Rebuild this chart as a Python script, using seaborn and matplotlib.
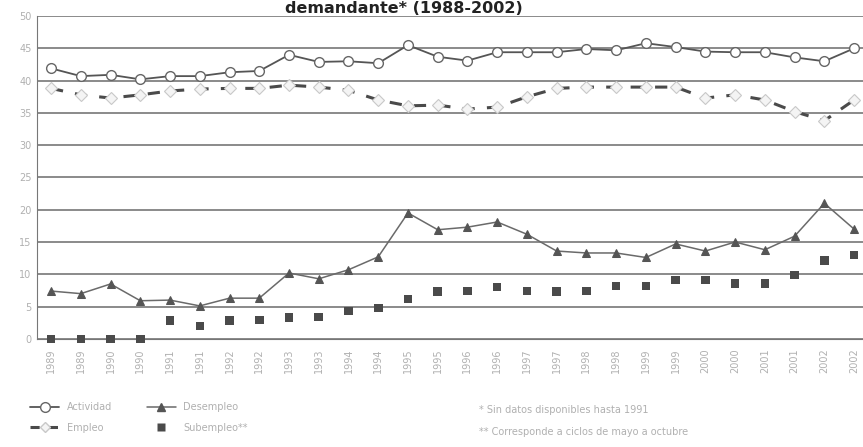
import pandas as pd
import numpy as np
import matplotlib.pyplot as plt
import seaborn as sns
from matplotlib.lines import Line2D

# Datos (tasas en %, dos observaciones por año)
periodos = ["1989", "1989", "1990", "1990", "1991", "1991", "1992", "1992",
            "1993", "1993", "1994", "1994", "1995", "1995", "1996", "1996",
            "1997", "1997", "1998", "1998", "1999", "1999", "2000", "2000",
            "2001", "2001", "2002", "2002"]
actividad = [41.9, 40.7, 40.9, 40.2, 40.7, 40.7, 41.3, 41.5, 44.0, 42.9,
             43.0, 42.7, 45.5, 43.7, 43.1, 44.4, 44.4, 44.4, 44.9, 44.7,
             45.8, 45.2, 44.5, 44.4, 44.4, 43.6, 43.0, 45.0]
empleo = [38.8, 37.8, 37.3, 37.8, 38.4, 38.7, 38.8, 38.8, 39.3, 39.0,
          38.5, 37.0, 36.1, 36.2, 35.6, 35.9, 37.5, 38.8, 39.0, 39.0,
          39.0, 39.0, 37.3, 37.8, 37.0, 35.2, 33.8, 37.0]
desempleo = [7.4, 7.0, 8.5, 5.9, 6.0, 5.1, 6.3, 6.3, 10.2, 9.3,
             10.7, 12.7, 19.5, 16.9, 17.3, 18.1, 16.2, 13.6, 13.3, 13.3,
             12.6, 14.7, 13.6, 15.0, 13.8, 15.9, 21.0, 17.0]
subempleo = [0, 0, 0, 0, 2.8, 2.0, 2.8, 2.9, 3.3, 3.4,
             4.3, 4.8, 6.2, 7.3, 7.4, 8.0, 7.4, 7.3, 7.4, 8.2,
             8.2, 9.1, 9.1, 8.6, 8.6, 9.9, 12.1, 13.0]

df = pd.DataFrame({"pos": np.arange(len(periodos)), "periodo": periodos,
                   "Actividad": actividad, "Empleo": empleo,
                   "Desempleo": desempleo, "Subempleo": subempleo})

sns.set_style("white")
fig = plt.figure(figsize=(8.63, 4.47), dpi=100)
ax = fig.add_axes([0.043, 0.242, 0.957, 0.722])

grey_txt = "#b0b0b0"

# lineas de la grilla
for v in range(0, 55, 5):
    ax.axhline(v, color="#8a8a8a", lw=1.4, zorder=0)

sns.lineplot(data=df, x="pos", y="Actividad", ax=ax, color="#555555", lw=1.3,
             marker="o", markersize=7, markerfacecolor="white",
             markeredgecolor="#666666", markeredgewidth=1.0, zorder=3)
sns.lineplot(data=df, x="pos", y="Empleo", ax=ax, color="#4a4a4a", lw=2.2,
             linestyle=(0, (4, 4)), marker="D", markersize=6,
             markerfacecolor="#f4f4f4", markeredgecolor="#c8c8c8",
             markeredgewidth=0.8, zorder=3)
sns.lineplot(data=df, x="pos", y="Desempleo", ax=ax, color="#6a6a6a", lw=1.1,
             marker="^", markersize=6, markerfacecolor="#555555",
             markeredgecolor="#555555", zorder=3)
sns.scatterplot(data=df, x="pos", y="Subempleo", ax=ax, color="#4a4a4a",
                marker="s", s=38, edgecolor="none", zorder=4, clip_on=False)

ax.set_xlim(-0.47, 27.3)
ax.set_ylim(0, 50)
ax.set_yticks(range(0, 55, 5))
ax.set_xticks(df["pos"])
ax.set_xticklabels(periodos, rotation=90, fontsize=7, color=grey_txt)
ax.tick_params(axis="y", labelsize=7, labelcolor=grey_txt, length=0, pad=4)
ax.tick_params(axis="x", length=3, color="#888888", pad=4)
ax.set_xlabel("")
ax.set_ylabel("")
for s in ["top", "right"]:
    ax.spines[s].set_visible(False)
ax.spines["left"].set_color("#777777")
ax.spines["bottom"].set_color("#777777")

# titulo (en el original aparece cortado arriba)
fig.text(0.468, 0.997, "demandante* (1988-2002)", ha="center", va="top",
         fontsize=11.5, fontweight="bold", color="#222222")

handles = [
    Line2D([], [], color="#555555", lw=1.3, marker="o", markersize=7,
           markerfacecolor="white", markeredgecolor="#666666"),
    Line2D([], [], color="#4a4a4a", lw=2.2, linestyle=(0, (3, 3)), marker="D",
           markersize=5, markerfacecolor="#f4f4f4", markeredgecolor="#c8c8c8"),
    Line2D([], [], color="#6a6a6a", lw=1.1, marker="^", markersize=6,
           markerfacecolor="#555555", markeredgecolor="#555555"),
    Line2D([], [], color="none", marker="s", markersize=6,
           markerfacecolor="#4a4a4a", markeredgecolor="none"),
]
labels = ["Actividad", "Empleo", "Desempleo", "Subempleo**"]
leg = fig.legend(handles, labels, ncol=2, loc="upper left",
                 bbox_to_anchor=(0.025, 0.12), frameon=False, fontsize=7,
                 handlelength=3, columnspacing=3.5, labelspacing=1.1)
for t in leg.get_texts():
    t.set_color(grey_txt)

fig.text(0.555, 0.083, "* Sin datos disponibles hasta 1991", fontsize=7,
         color=grey_txt, va="center")
fig.text(0.555, 0.034, "** Corresponde a ciclos de mayo a octubre", fontsize=7,
         color=grey_txt, va="center")

fig.savefig("out.png", dpi=100)
